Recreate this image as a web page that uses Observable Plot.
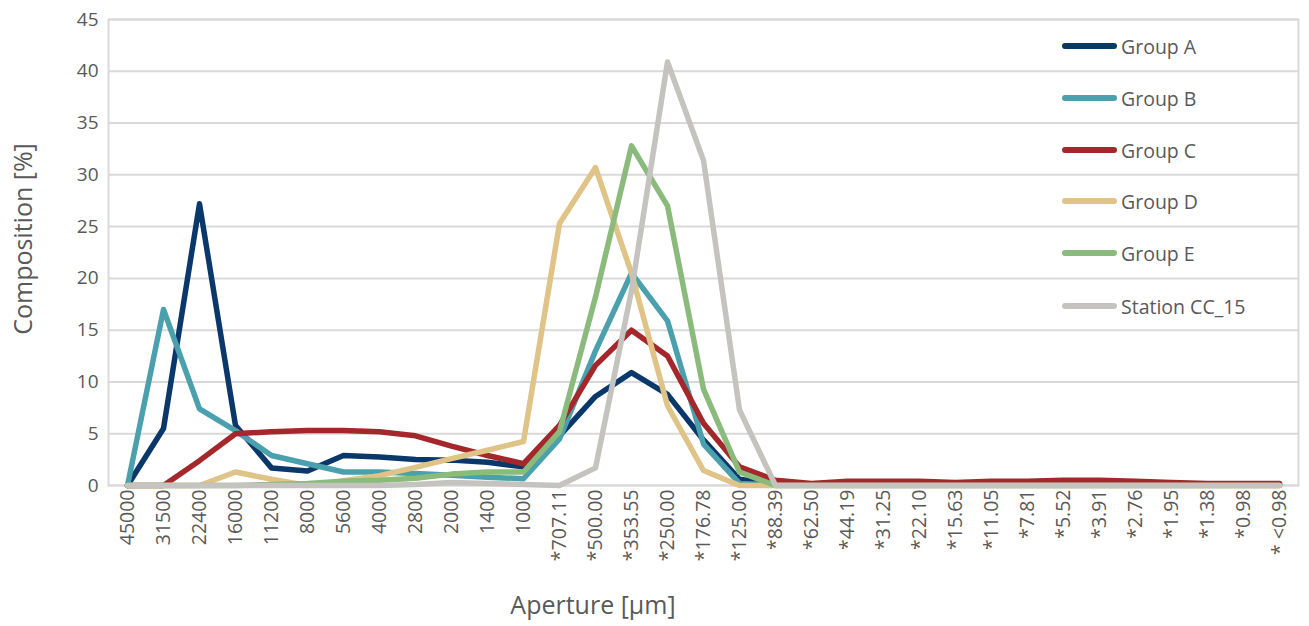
<!DOCTYPE html>
<html><head><meta charset="utf-8">
<script src="https://cdn.jsdelivr.net/npm/d3@7"></script>
<script src="https://cdn.jsdelivr.net/npm/@observablehq/plot@0.6"></script>
<style>
body{margin:0;background:#fff;font-family:"Open Sans",sans-serif;}
#wrap{position:relative;width:1309px;height:626px;overflow:hidden;}
#wrap svg{position:absolute;left:0;top:0;}
.ytitle{position:absolute;left:22px;top:239px;transform:translate(-50%,-50%) rotate(-90deg);font-size:25px;color:#595959;white-space:nowrap;}
.xtitle{position:absolute;left:593px;top:604px;transform:translate(-50%,-50%);font-size:25px;color:#595959;white-space:nowrap;}
.legend .item{position:absolute;left:1062px;display:flex;align-items:center;height:30px;transform:translateY(-50%);}
.legend .sw{width:55px;height:6px;border-radius:3px;margin-right:4px;}
.legend .lb{font-size:19.5px;color:#595959;white-space:nowrap;}
</style></head><body><div id="wrap"></div>
<script>
const apertures = ["45000","31500","22400","16000","11200","8000","5600","4000","2800","2000","1400","1000","*707.11","*500.00","*353.55","*250.00","*176.78","*125.00","*88.39","*62.50","*44.19","*31.25","*22.10","*15.63","*11.05","*7.81","*5.52","*3.91","*2.76","*1.95","*1.38","*0.98","* <0.98"];
const groupA = [0,5.5,27.2,5.8,1.7,1.4,2.9,2.75,2.5,2.45,2.25,1.8,4.8,8.6,10.9,8.8,4.4,0.6,0.1,0.1,0.1,0.1,0.1,0.1,0.1,0.1,0.1,0.1,0.1,0.1,0.1,0.1,0.1];
const groupB = [0,17.0,7.4,5.3,2.9,2.1,1.3,1.3,1.15,1.0,0.8,0.65,4.5,13.0,20.5,15.9,4.0,0.2,0.05,0.05,0.05,0.05,0.05,0.05,0.05,0.05,0.05,0.05,0.05,0.05,0.05,0.05,0.05];
const groupC = [0,0,2.4,5.0,5.2,5.3,5.3,5.2,4.8,3.8,2.9,2.1,5.8,11.6,15.0,12.5,6.0,1.8,0.5,0.2,0.4,0.4,0.4,0.3,0.4,0.4,0.5,0.5,0.4,0.3,0.2,0.2,0.2];
const groupD = [0,0,0,1.3,0.6,0,0.45,0.95,1.75,2.6,3.4,4.25,25.3,30.7,20.5,7.7,1.45,0,0,0,0,0,0,0,0,0,0,0,0,0,0,0,0];
const groupE = [0,0,0,0,0.1,0.2,0.4,0.5,0.7,1.1,1.3,1.3,5.2,18.2,32.8,27.0,9.3,1.3,0,0,0,0,0,0,0,0,0,0,0,0,0,0,0];
const stationCC15 = [0,0,0,0,0,0,0,0,0.1,0.3,0.2,0.1,0,1.7,18.8,40.9,31.4,7.3,0,0,0,0,0,0,0,0,0,0,0,0,0,0,0];
const seriesNames = ["Group A","Group B","Group C","Group D","Group E","Station CC_15"];
const seriesColors = ["#0b386b","#4aa0ad","#a4282b","#dfc387","#8aba7c","#c4c3bf"];
const seriesValues = [groupA,groupB,groupC,groupD,groupE,stationCC15];
const yTicks = [0,5,10,15,20,25,30,35,40,45];

const data = [];
seriesNames.forEach((name,k)=>seriesValues[k].forEach((v,i)=>data.push({series:name,aperture:apertures[i],value:v})));

const chart = Plot.plot({
  width:1309, height:626,
  marginLeft:108, marginRight:11, marginTop:19, marginBottom:141,
  style:{fontFamily:"Open Sans", fontSize:"19px", color:"#595959", background:"transparent"},
  x:{type:"point", domain:apertures, label:null},
  y:{domain:[0,45], label:null},
  color:{domain:seriesNames, range:seriesColors},
  marks:[
    Plot.gridY(yTicks, {stroke:"#d9d9d9", strokeOpacity:1, strokeWidth:2}),
    Plot.frame({stroke:"#d9d9d9", strokeWidth:2}),
    Plot.line(data, {x:"aperture", y:"value", z:"series", stroke:"series", strokeWidth:5.5, strokeLinejoin:"round", strokeLinecap:"round"}),
    Plot.axisY(yTicks, {tickSize:0, tickPadding:10, label:null, fontSize:19, fill:"#595959"}),
    Plot.axisX({tickSize:0, tickRotate:-90, tickPadding:4, label:null, fontSize:19.5, fill:"#595959"})
  ]
});
const wrap = document.getElementById("wrap");
wrap.appendChild(chart);
const yt = document.createElement("div"); yt.className="ytitle"; yt.textContent="Composition [%]"; wrap.appendChild(yt);
const xt = document.createElement("div"); xt.className="xtitle"; xt.textContent="Aperture [μm]"; wrap.appendChild(xt);
const lg = document.createElement("div"); lg.className="legend";
const legendTops = [46,98,150,201,253,306];
seriesNames.forEach((n,k)=>{
  const it=document.createElement("div"); it.className="item"; it.style.top=legendTops[k]+"px";
  const sw=document.createElement("div"); sw.className="sw"; sw.style.background=seriesColors[k];
  const lb=document.createElement("div"); lb.className="lb"; lb.textContent=n;
  it.appendChild(sw); it.appendChild(lb); lg.appendChild(it);
});
wrap.appendChild(lg);
</script>
</body></html>
